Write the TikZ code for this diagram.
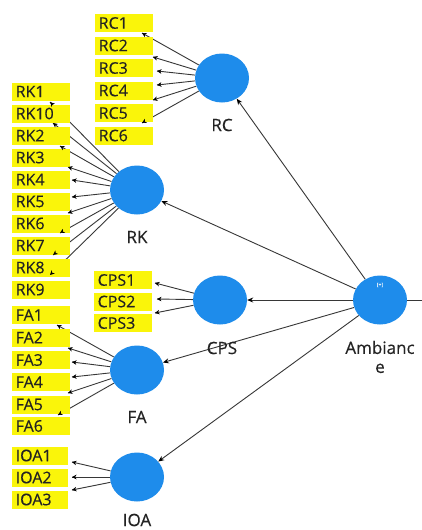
\documentclass[tikz,border=0pt]{standalone}
\usepackage{fontspec}
\setmainfont[FakeBold=0.4]{Open Sans}
\usetikzlibrary{shapes.geometric,arrows.meta,decorations.markings}
\pgfdeclarelayer{paper}
\pgfdeclarelayer{bg}
\pgfdeclarelayer{fg}
\pgfsetlayers{paper,bg,main,fg}
\definecolor{yel}{RGB}{250,245,10}
\definecolor{blu}{RGB}{30,140,235}
\definecolor{txt}{RGB}{35,35,35}
\definecolor{lin}{RGB}{55,55,55}
\tikzset{
  ind/.style={anchor=west, fill=yel, minimum height=18pt, text width=51pt,
    inner xsep=3.5pt, inner ysep=0pt, align=left, text=txt,
    font=\fontsize{16}{16}\selectfont},
  lv/.style={ellipse, fill=blu, minimum width=54pt, minimum height=49pt, inner sep=0pt},
  lvlab/.style={text=txt, font=\fontsize{17}{19}\selectfont, align=center},
  ln/.style={draw=lin, line width=0.9pt},
  pa/.style={ln, -{Stealth[length=6pt,width=5pt,black]}},
}
\newcommand\indarrow[2]{%
  \begin{pgfonlayer}{bg}\draw[ln] (#1) -- (#2);\end{pgfonlayer}%
  \begin{pgfonlayer}{fg}\path[postaction={decorate},
    decoration={markings,mark=at position 1 with {\arrow[black]{Stealth[length=4.5pt,width=4.5pt]}}}]
    (#1) -- (#2);\end{pgfonlayer}}
\begin{document}
\begin{tikzpicture}[x=1pt,y=-1pt]
\begin{pgfonlayer}{paper}
\fill[white] (0,0) rectangle (422,530);
\end{pgfonlayer}
\useasboundingbox (0,0) rectangle (422,530);
% latent variables
\node[lv] (rc) at (222,78) {};
\node[lv] (rk) at (137,190) {};
\node[lv] (cps) at (220,300) {};
\node[lv] (fa) at (137,370) {};
\node[lv] (ioa) at (137,477) {};
\node[lv] (amb) at (380,300) {};
\node[text=white, font=\fontsize{5}{5}\selectfont] (plus) at (380,285) {[+]};
\node[lvlab] (rcl) at (222,125) {RC};
\node[lvlab] (rkl) at (137,237) {RK};
\node[lvlab] (cpsl) at (222,348) {CPS};
\node[lvlab] (fal) at (137,417) {FA};
\node[lvlab] (ioal) at (137,520) {IOA};
\node[lvlab] (ambl) at (380,357) {Ambianc\\e};
\coordinate (out) at (422,300);
% indicators RC
\foreach \n/\y in {1/23,2/45.5,3/68,4/90.5,5/113,6/135.5}{
  \node[ind] (rc\n) at (95,\y) {RC\n};}
% RK
\foreach \t/\y in {1/91.5,10/113.5,2/135.5,3/157.5,4/179.5,5/201.5,6/223.5,7/245.5,8/267.5,9/289.5}{
  \node[ind] (rk\t) at (12,\y) {RK\t};}
% CPS
\foreach \n/\y in {1/280,2/301.5,3/323}{
  \node[ind] (cps\n) at (94,\y) {CPS\n};}
% FA
\foreach \n/\y in {1/315,2/337.5,3/360,4/382,5/404.5,6/426}{
  \node[ind] (fa\n) at (12,\y) {FA\n};}
% IOA
\foreach \n/\y in {1/455.5,2/477.5,3/499.5}{
  \node[ind, text width=49pt] (ioa\n) at (12,\y) {IOA\n};}
% arrow end points
\coordinate (trc1) at (142,33);
\coordinate (trc2) at (153,57);
\coordinate (trc3) at (157,71);
\coordinate (trc4) at (157,85);
\coordinate (trc5) at (153,100);
\coordinate (trc6) at (142,123);
\coordinate (trk1) at (50,102);
\coordinate (trk10) at (53,123);
\coordinate (trk2) at (60,146);
\coordinate (trk3) at (68,167);
\coordinate (trk4) at (72,180);
\coordinate (trk5) at (72,197);
\coordinate (trk6) at (68,213);
\coordinate (trk7) at (60,233);
\coordinate (trk8) at (53,255);
\coordinate (trk9) at (50,275);
\coordinate (tcps1) at (155,283);
\coordinate (tcps2) at (157,299);
\coordinate (tcps3) at (155,313);
\coordinate (tfa1) at (57,325);
\coordinate (tfa2) at (68,348);
\coordinate (tfa3) at (72,362);
\coordinate (tfa4) at (72,377);
\coordinate (tfa5) at (68,393);
\coordinate (tfa6) at (58,415);
\coordinate (tioa1) at (72,462);
\coordinate (tioa2) at (72,477);
\coordinate (tioa3) at (72,490);
\foreach \n in {1,...,6}{\indarrow{rc}{trc\n}}
\foreach \n in {1,10,2,3,4,5,6,7,8,9}{\indarrow{rk}{trk\n}}
\foreach \n in {1,2,3}{\indarrow{cps}{tcps\n}}
\foreach \n in {1,...,6}{\indarrow{fa}{tfa\n}}
\foreach \n in {1,2,3}{\indarrow{ioa}{tioa\n}}
% structural paths
\begin{pgfonlayer}{bg}
\draw[pa] (amb) -- (rc);
\draw[pa] (amb) -- (rk);
\draw[pa] (amb) -- (cps);
\draw[pa] (amb) -- (fa);
\draw[pa] (amb) -- (ioa);
\draw[ln] (amb) -- (out);
\end{pgfonlayer}
\end{tikzpicture}
\end{document}
